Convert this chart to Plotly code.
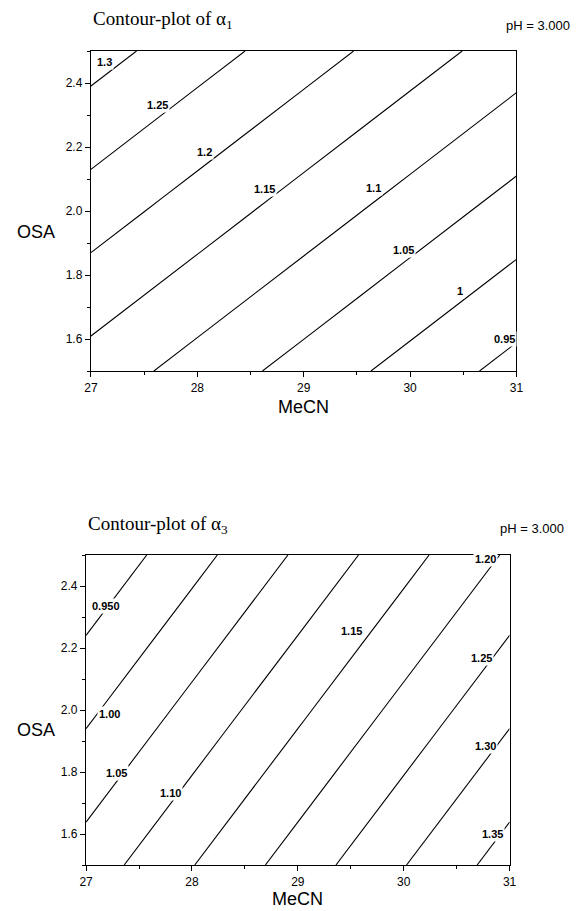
import plotly.graph_objects as go

W, H = 582, 911

# ---- data ----
mecn = [27, 28, 29, 30, 31]
osa = [1.5, 2.0, 2.5]

# alpha1 estimated at grid nodes (rows: OSA, cols: MeCN)
alpha1 = [
    [1.129, 1.080, 1.031, 0.982, 0.933],
    [1.225, 1.176, 1.127, 1.078, 1.029],
    [1.321, 1.272, 1.223, 1.174, 1.125],
]
# alpha3 estimated at grid nodes
alpha3 = [
    [1.073, 1.148, 1.223, 1.298, 1.373],
    [0.990, 1.065, 1.140, 1.215, 1.290],
    [0.907, 0.982, 1.057, 1.132, 1.207],
]

levels1 = dict(start=0.95, end=1.30, size=0.05)
levels3 = dict(start=0.95, end=1.35, size=0.05)

# contour label texts and where they sit
labels1_text = ["1.3", "1.25", "1.2", "1.15", "1.1", "1.05", "1", "0.95"]
labels1_x = [27.13, 27.63, 28.07, 28.63, 29.66, 29.94, 30.47, 30.89]
labels1_y = [2.466, 2.331, 2.184, 2.069, 2.072, 1.878, 1.750, 1.600]

labels3_text = ["0.950", "1.00", "1.05", "1.10", "1.15", "1.20", "1.25", "1.30", "1.35"]
labels3_x = [27.19, 27.22, 27.29, 27.80, 29.51, 30.77, 30.73, 30.77, 30.84]
labels3_y = [2.335, 1.987, 1.797, 1.732, 2.255, 2.487, 2.168, 1.884, 1.600]

xticks = [27, 28, 29, 30, 31]
yticks = [1.6, 1.8, 2.0, 2.2, 2.4]

# ---- layout geometry (pixels) ----
top_box = (86, 522, 51, 371)     # left, right, top, bottom
bot_box = (81, 515, 555, 865)


def px(x):
    return x / W


def py(y):
    return (H - y) / H


fig = go.Figure()

fig.add_trace(go.Contour(
    x=mecn, y=osa, z=alpha1, xaxis="x", yaxis="y",
    contours=dict(coloring="none", showlabels=False, **levels1),
    line=dict(color="black", width=1.1), showscale=False, hoverinfo="skip",
    autocontour=False,
))
fig.add_trace(go.Contour(
    x=mecn, y=osa, z=alpha3, xaxis="x2", yaxis="y2",
    contours=dict(coloring="none", showlabels=False, **levels3),
    line=dict(color="black", width=1.1), showscale=False, hoverinfo="skip",
    autocontour=False,
))

tickfont = dict(family="Liberation Sans, Arial, sans-serif", size=12, color="black")


def xax(box):
    l, r, t, b = box
    return dict(
        domain=[px(l), px(r)], range=[27, 31], tickvals=xticks,
        ticktext=[str(v) for v in xticks],
        ticks="outside", ticklen=5, tickwidth=1, tickcolor="black",
        minor=dict(ticks="outside", ticklen=3, dtick=0.5, tick0=27, tickcolor="black"),
        showline=True, linecolor="black", linewidth=1.3, mirror=True,
        showgrid=False, zeroline=False, tickfont=tickfont, fixedrange=True,
    )


def yax(box):
    l, r, t, b = box
    return dict(
        domain=[py(b), py(t)], range=[1.5, 2.5], tickvals=yticks,
        ticktext=["%.1f" % v for v in yticks],
        ticks="outside", ticklen=5, tickwidth=1, tickcolor="black",
        minor=dict(ticks="outside", ticklen=3, dtick=0.1, tick0=1.5, tickcolor="black"),
        showline=True, linecolor="black", linewidth=1.3, mirror=True,
        showgrid=False, zeroline=False, tickfont=tickfont, fixedrange=True,
    )


xa1 = xax(top_box); xa1["anchor"] = "y"
ya1 = yax(top_box); ya1["anchor"] = "x"
xa2 = xax(bot_box); xa2["anchor"] = "y2"
ya2 = yax(bot_box); ya2["anchor"] = "x2"

ann = []
labfont = dict(family="Liberation Sans, Arial, sans-serif", size=11, color="black", weight="bold")
for t, x, y in zip(labels1_text, labels1_x, labels1_y):
    ann.append(dict(text=t, x=x, y=y, xref="x", yref="y", showarrow=False,
                    bgcolor="white", borderpad=1, font=labfont))
for t, x, y in zip(labels3_text, labels3_x, labels3_y):
    ann.append(dict(text=t, x=x, y=y, xref="x2", yref="y2", showarrow=False,
                    bgcolor="white", borderpad=1, font=labfont))

titlefont = dict(family="Liberation Serif, Times New Roman, serif", size=19, color="black")
phfont = dict(family="Liberation Sans, Arial, sans-serif", size=13, color="black")
axfont = dict(family="Liberation Sans, Arial, sans-serif", size=18, color="black")

for box, sub, ty, phx, phy, mecn_y, osa_y in [
    (top_box, "1", 20, 579, 25, 407, 232),
    (bot_box, "3", 525, 573, 528, 899, 730),
]:
    l, r, t, b = box
    ann.append(dict(text="Contour-plot of α<sub>%s</sub>" % sub, x=px(l), y=py(ty),
                    xref="paper", yref="paper", xanchor="left", yanchor="middle",
                    showarrow=False, font=titlefont))
    ann.append(dict(text="pH = 3.000", x=px(phx), y=py(phy), xref="paper", yref="paper",
                    xanchor="right", yanchor="middle", showarrow=False, font=phfont))
    ann.append(dict(text="MeCN", x=px((l + r) / 2), y=py(mecn_y), xref="paper", yref="paper",
                    xanchor="center", yanchor="middle", showarrow=False, font=axfont))
    ann.append(dict(text="OSA", x=px(30), y=py(osa_y), xref="paper", yref="paper",
                    xanchor="center", yanchor="middle", showarrow=False, font=axfont))

fig.update_layout(
    width=W, height=H, margin=dict(l=0, r=0, t=0, b=0),
    paper_bgcolor="white", plot_bgcolor="white", showlegend=False,
    xaxis=xa1, yaxis=ya1, xaxis2=xa2, yaxis2=ya2, annotations=ann,
)

fig.write_html("out.html")
